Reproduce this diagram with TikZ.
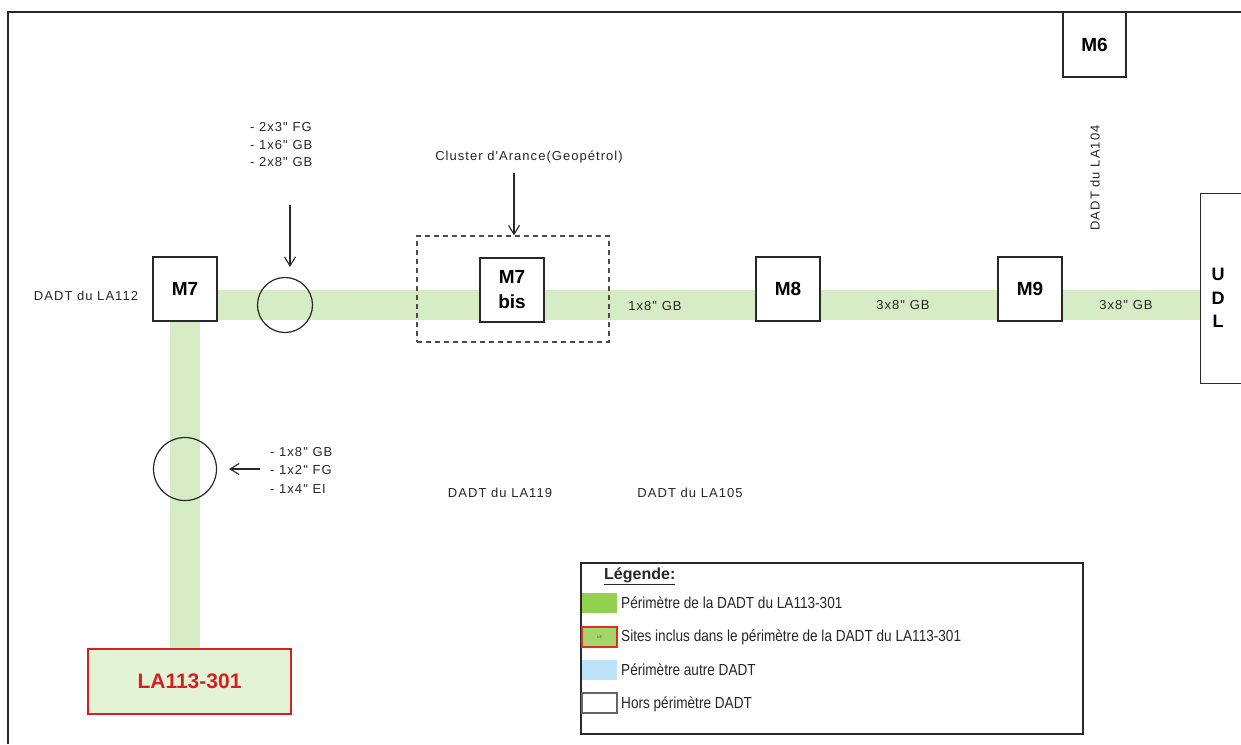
\documentclass[tikz,border=0pt]{standalone}
\usepackage{fontspec}
\setmainfont{Liberation Sans}
\newfontfamily\narrowfont{Liberation Sans}[FakeStretch=0.85]
\newfontfamily\widefont{Liberation Sans}[LetterSpace=8]
\usetikzlibrary{backgrounds,arrows.meta}
\definecolor{bandgreen}{RGB}{214,236,196}
\definecolor{swgreen}{RGB}{146,208,80}
\definecolor{swblue}{RGB}{190,226,246}
\definecolor{lafill}{RGB}{226,243,214}
\definecolor{lared}{RGB}{214,30,36}
\definecolor{framec}{RGB}{40,40,40}
\tikzset{
  box/.style={draw=framec, line width=1.3pt, fill=white, minimum width=64pt, minimum height=64pt, inner sep=0pt, font=\bfseries\fontsize{19}{25}\selectfont, align=center},
  band/.style={draw=bandgreen, line width=30pt},
  lbl/.style={font=\widefont\fontsize{13}{17.5}\selectfont, inner sep=0pt, align=left, text=black!85},
  glbl/.style={font=\widefont\fontsize{13}{15}\selectfont, inner sep=0pt, text=black!85},
  leg/.style={font=\narrowfont\fontsize{16}{18}\selectfont, inner sep=0pt, anchor=west, text=black!85},
  arr/.style={-{Straight Barb[length=9pt,width=11pt]}, line width=1.1pt, draw=black!85},
  ring/.style={circle, draw=black!85, line width=1.2pt, inner sep=0pt},
  swatch/.style={minimum width=35pt, minimum height=20pt, inner sep=0pt}
}
\begin{document}
\begin{tikzpicture}[x=1pt,y=-1pt]
\useasboundingbox (0,0) rectangle (1241,744);
% frame
\draw[framec, line width=2pt] (8,744) -- (8,12) -- (1245,12);
% boxes
\node[box] (M7) at (185,289) {M7};
\node[box] (M7b) at (512,290) {M7\\bis};
\node[box] (M8) at (788,289) {M8};
\node[box] (M9) at (1030,289) {M9};
\node[box, minimum width=63pt, minimum height=65pt] (M6) at (1094.5,44.5) {M6};
\node[box, minimum width=60pt, minimum height=190pt, anchor=north west] (UDL) at (1200,193) {};
\node[font=\bfseries\fontsize{18}{23.5}\selectfont, align=center, inner sep=0pt] (UDLt) at (1218,298) {U\\D\\L};
\node[draw=black!70, dash pattern=on 5pt off 4pt, line width=1.2pt, minimum width=192pt, minimum height=106pt, inner sep=0pt] (clu) at (513,289) {};
\node[ring, minimum size=55pt] (c1) at (285,305) {};
\node[ring, minimum size=63pt] (c2) at (185,469) {};
\node[draw=lared, line width=1.2pt, fill=lafill, minimum width=203pt, minimum height=65pt, inner sep=0pt, text=lared, font=\bfseries\fontsize{21}{24}\selectfont] (LA) at (189.5,681.5) {LA113-301};
% band
\coordinate (by) at (0,305);
\begin{pgfonlayer}{background}
\draw[band] (M7.east |- by) -- (UDL.west |- by);
\draw[band] (M7.south) -- (M7.south |- LA.north);
\end{pgfonlayer}
% labels
\node[lbl, anchor=west] (t1) at (250,145) {- 2x3" FG\\- 1x6" GB\\- 2x8" GB};
\coordinate (a1) at (290,205);
\draw[arr, shorten >=10pt] (a1) -- (a1 |- c1.north);
\node[lbl, anchor=west, font=\widefont\fontsize{13}{18.5}\selectfont] (t2) at (270,470) {- 1x8" GB\\- 1x2" FG\\- 1x4" EI};
\coordinate (a2) at (260,469);
\draw[arr, shorten >=12pt] (a2) -- (c2.east);
\node[lbl] (clt) at (529,157) {Cluster d'Arance(Geopétrol)};
\coordinate (a3) at (514,173);
\draw[arr] (a3) -- (a3 |- clu.north);
\node[lbl] (d112) at (86,296) {DADT du LA112};
\node[lbl] (d119) at (500,493) {DADT du LA119};
\node[lbl] (d105) at (690,493) {DADT du LA105};
\node[lbl, rotate=90] (d104) at (1095,178) {DADT du LA104};
\node[glbl] (g1) at (655,306) {1x8" GB};
\node[glbl] (g2) at (903,305) {3x8" GB};
\node[glbl] (g3) at (1126,305) {3x8" GB};
% legend
\node[draw=framec, line width=1.5pt, minimum width=502pt, minimum height=171pt, inner sep=0pt] (legend) at (832,648.5) {};
\node[leg, font=\bfseries\fontsize{16}{18}\selectfont] (lt) at (604,576) {\underline{Légende:}};
\node[swatch, fill=swgreen] (s1) at (599.5,602.5) {};
\node[leg] (l1) at (621,603) {Périmètre de la DADT du LA113-301};
\node[swatch, fill=swgreen!80!lafill, draw=lared!80!orange, line width=1.2pt, text=lared!70!black, font=\fontsize{4}{4}\selectfont] (s2) at (599.5,637) {L6};
\node[leg] (l2) at (621,637) {Sites inclus dans le périmètre de la DADT du LA113-301};
\node[swatch, fill=swblue] (s3) at (599.5,670) {};
\node[leg] (l3) at (621,670) {Périmètre autre DADT};
\node[swatch, fill=white, draw=black!60, line width=1.2pt] (s4) at (599.5,703) {};
\node[leg] (l4) at (621,704) {Hors périmètre DADT};
\end{tikzpicture}
\end{document}
